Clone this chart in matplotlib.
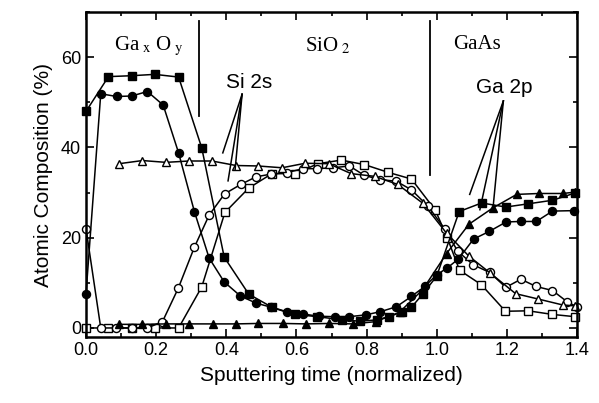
import matplotlib
matplotlib.use("Agg")
import matplotlib.pyplot as plt
from matplotlib.ticker import MultipleLocator, FormatStrFormatter

plt.rcParams['font.family'] = ['Liberation Sans', 'DejaVu Sans']
plt.rcParams['mathtext.fontset'] = 'stix'

# filled squares
sq_f_x = [0, 0.064, 0.13, 0.196, 0.264, 0.33, 0.394, 0.464, 0.53, 0.597, 0.66, 0.73,
          0.78, 0.83, 0.863, 0.9, 0.928, 0.96, 1.0, 1.064, 1.128, 1.197, 1.26, 1.33, 1.394]
sq_f_y = [48, 55.7, 55.9, 56.2, 55.6, 39.9, 15.7, 7.5, 4.6, 3.0, 2.5, 1.8,
          1.5, 1.8, 2.5, 3.5, 4.6, 7.5, 11.5, 25.8, 27.7, 26.8, 27.5, 28.3, 29.9]

# filled circles
ci_f_x = [0, 0.042, 0.087, 0.13, 0.175, 0.22, 0.264, 0.309, 0.351, 0.394, 0.44, 0.485,
          0.528, 0.572, 0.618, 0.664, 0.709, 0.751, 0.797, 0.839, 0.885, 0.928, 0.966,
          1.0, 1.03, 1.062, 1.105, 1.15, 1.198, 1.24, 1.284, 1.33, 1.39]
ci_f_y = [7.6, 51.9, 51.3, 51.4, 52.4, 49.4, 38.8, 25.8, 15.5, 10.2, 7.1, 5.5,
          4.6, 3.5, 3.1, 2.6, 2.5, 2.5, 2.9, 3.6, 4.7, 7.0, 9.2,
          11.8, 13.3, 15.3, 19.7, 21.4, 23.5, 23.6, 23.6, 25.9, 26.0]

# filled triangles
tr_f_x = [0.094, 0.161, 0.228, 0.294, 0.361, 0.428, 0.49, 0.561, 0.628, 0.694, 0.761,
          0.826, 0.894, 0.96, 1.028, 1.092, 1.16, 1.228, 1.291, 1.359, 1.394]
tr_f_y = [0.8, 0.8, 0.9, 0.9, 0.9, 0.9, 1.0, 1.0, 0.9, 1.0, 0.9,
          1.4, 3.5, 8.5, 16.5, 23.0, 26.6, 29.6, 29.8, 29.8, 30.1]

# open triangles
tr_o_x = [0.094, 0.161, 0.228, 0.294, 0.359, 0.428, 0.49, 0.559, 0.625, 0.692, 0.756,
          0.823, 0.889, 0.961, 1.028, 1.092, 1.152, 1.225, 1.29, 1.359, 1.394]
tr_o_y = [36.4, 37.1, 36.7, 37.0, 37.0, 36.0, 35.9, 35.5, 36.5, 36.4, 34.2,
          33.6, 31.8, 27.6, 21.0, 15.9, 12.2, 7.6, 6.4, 5.1, 4.9]

# open circles
ci_o_x = [0, 0.042, 0.085, 0.13, 0.175, 0.218, 0.263, 0.309, 0.351, 0.395, 0.441, 0.485,
          0.528, 0.572, 0.618, 0.66, 0.704, 0.751, 0.794, 0.837, 0.885, 0.928, 0.975,
          1.023, 1.06, 1.104, 1.151, 1.197, 1.24, 1.283, 1.33, 1.372, 1.399]
ci_o_y = [22, 0, 0, 0, 0, 1.4, 8.8, 17.9, 25.0, 29.7, 31.8, 33.5,
          34.1, 34.4, 35.3, 35.3, 35.5, 35.9, 33.8, 32.9, 32.5, 30.6, 27.0,
          21.9, 17.0, 14.0, 12.3, 9.0, 10.8, 9.2, 8.3, 5.8, 4.7]

# open squares
sq_o_x = [0, 0.064, 0.13, 0.196, 0.264, 0.33, 0.396, 0.464, 0.53, 0.597, 0.661, 0.728,
          0.794, 0.861, 0.928, 0.996, 1.03, 1.065, 1.127, 1.196, 1.261, 1.33, 1.394]
sq_o_y = [0, 0, 0, 0, 0, 9.1, 25.6, 31.0, 34.2, 34.2, 36.4, 37.2,
          36.2, 34.5, 33.0, 26.1, 20.0, 12.8, 9.6, 3.7, 3.8, 3.0, 2.5]

fig = plt.figure(figsize=(5.99, 4.03), dpi=100)
ax = fig.add_axes([0.1436, 0.1638, 0.8197, 0.8062])

style = dict(color='black', linewidth=1.1, markersize=5.8, markeredgewidth=1.0,
             markeredgecolor='black', clip_on=False)
ax.plot(sq_o_x, sq_o_y, marker='s', markerfacecolor='white', **style)
ax.plot(ci_o_x, ci_o_y, marker='o', markerfacecolor='white', **style)
ax.plot(tr_o_x, tr_o_y, marker='^', markerfacecolor='white', **style)
ax.plot(tr_f_x, tr_f_y, marker='^', markerfacecolor='black', **style)
ax.plot(ci_f_x, ci_f_y, marker='o', markerfacecolor='black', **style)
ax.plot(sq_f_x, sq_f_y, marker='s', markerfacecolor='black', **style)

# region boundaries
ax.plot([0.323, 0.323], [46.9, 68], color='black', linewidth=1.3)
ax.plot([0.98, 0.98], [34, 68], color='black', linewidth=1.3)

serif = ['Liberation Serif', 'DejaVu Serif']
ax.text(0.18, 62.4, r'Ga$_{\rm\ x}$ O$_{\rm\ y}$', family=serif, fontsize=15,
        ha='center', va='center')
ax.text(0.69, 62.4, r'SiO$_{\rm\ 2}$', family=serif, fontsize=15,
        ha='center', va='center')
ax.text(1.046, 62.9, 'GaAs', family=serif, fontsize=15, ha='left', va='center')

# Si 2s annotation
ax.text(0.398, 54.5, 'Si 2s', fontsize=15, ha='left', va='center')
for ex, ey in [(0.39, 38.8), (0.405, 32.6), (0.425, 35.0)]:
    ax.plot([0.445, ex], [51.8, ey], color='black', linewidth=1.1)

# Ga 2p annotation
ax.text(1.112, 53.3, 'Ga 2p', fontsize=15, ha='left', va='center')
for ex, ey in [(1.094, 29.6), (1.123, 26.2), (1.161, 27.0)]:
    ax.plot([1.19, ex], [50.3, ey], color='black', linewidth=1.1)

ax.set_xlim(0, 1.4)
ax.set_ylim(-2, 70)
ax.set_xticks([0, 0.2, 0.4, 0.6, 0.8, 1.0, 1.2, 1.4])
ax.xaxis.set_minor_locator(MultipleLocator(0.1))
ax.xaxis.set_major_formatter(FormatStrFormatter('%.1f'))
ax.set_yticks([0, 20, 40, 60])
ax.yaxis.set_minor_locator(MultipleLocator(10))
ax.tick_params(which='both', direction='in', top=True, right=True,
               labelsize=13, width=1.2)
ax.tick_params(which='major', length=6)
ax.tick_params(which='minor', length=3)
for sp in ax.spines.values():
    sp.set_linewidth(1.8)

ax.set_xlabel('Sputtering time (normalized)', fontsize=15, labelpad=5)
ax.set_ylabel('Atomic Composition (%)', fontsize=15, labelpad=6)

fig.savefig('out.png', dpi=100)
